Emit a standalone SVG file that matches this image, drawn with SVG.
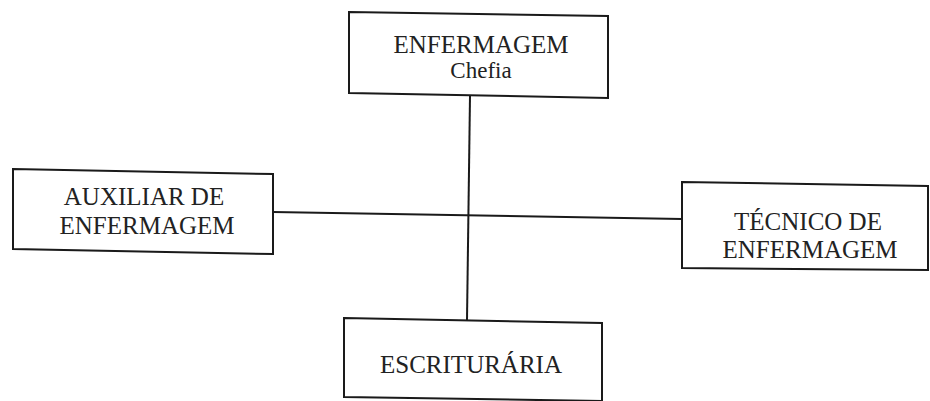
<svg xmlns="http://www.w3.org/2000/svg" width="930" height="401" viewBox="0 0 930 401">
<style>
.box{fill:#fff;stroke:#1a1a1a;stroke-width:2}
.lbl{font-family:"Liberation Serif","Times New Roman",serif;font-size:25px;fill:#222;text-anchor:middle}
.con{stroke:#1a1a1a;stroke-width:2;fill:none}
</style>
<rect width="930" height="401" fill="#fff"/>
<g id="connectors">
<line class="con" x1="470" y1="96" x2="467" y2="320"/>
<line class="con" x1="273" y1="212" x2="682" y2="219"/>
</g>
<g id="chefia">
<polygon class="box" points="349,12 608,16 608,98 349,93"/>
<text class="lbl" x="481" y="53">ENFERMAGEM</text>
<text class="lbl" x="481" y="78" style="font-size:23px">Chefia</text>
</g>
<g id="auxiliar">
<polygon class="box" points="13,169 273,174 273,254 13,249"/>
<text class="lbl" x="144" y="205">AUXILIAR DE</text>
<text class="lbl" x="147" y="234">ENFERMAGEM</text>
</g>
<g id="tecnico">
<polygon class="box" points="682,182 928,186 928,270 682,268"/>
<text class="lbl" x="808" y="230">TÉCNICO DE</text>
<text class="lbl" x="810" y="258">ENFERMAGEM</text>
</g>
<g id="escrituraria">
<polygon class="box" points="344,318 602,323 602,401 344,397"/>
<text class="lbl" x="471" y="373">ESCRITURÁRIA</text>
</g>
</svg>
